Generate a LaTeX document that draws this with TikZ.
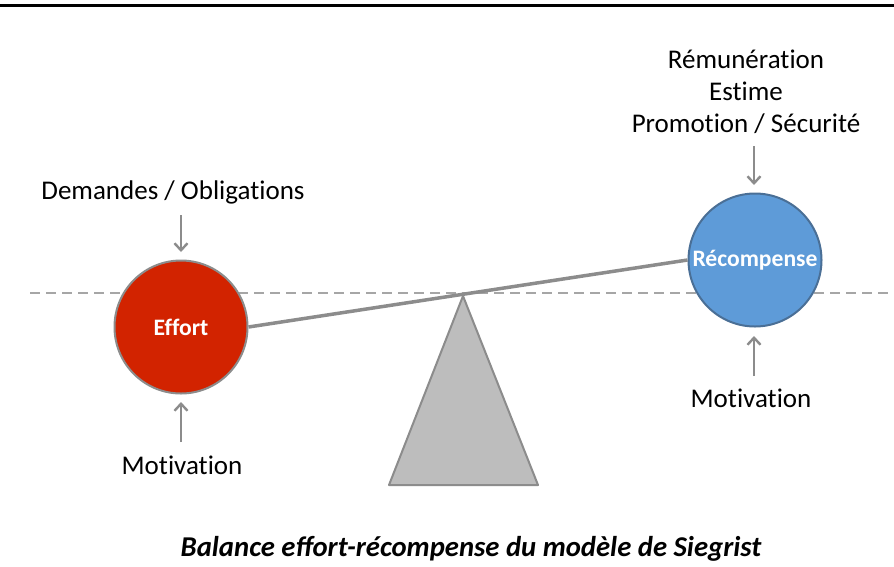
\documentclass[tikz,border=0pt]{standalone}
\usepackage{fontspec}
\setmainfont{Carlito}[Ligatures={NoCommon}]
\newfontfamily\titlefont{Carlito}
\usetikzlibrary{arrows.meta}
\definecolor{effred}{HTML}{D22300}
\definecolor{recblue}{HTML}{5E9BD8}
\definecolor{recedge}{HTML}{4A6F96}
\definecolor{lgray}{HTML}{8C8C8C}
\definecolor{dgray}{HTML}{A6A6A6}
\definecolor{tfill}{HTML}{BDBDBD}
\begin{document}
\begin{tikzpicture}[x=1pt,y=-1pt,
  lbl/.style={font=\fontsize{27}{32}\selectfont, text=black, align=center, inner sep=0pt},
  circ/.style={circle, minimum size=133pt, inner sep=0pt, line width=2pt, text=white, font=\fontsize{23.6}{26}\selectfont\bfseries},
  arr/.style={draw=lgray, line width=2.4pt, -{Straight Barb[length=7pt,width=13pt,line width=2.4pt]}}]
\useasboundingbox (0,0) rectangle (894,566);
\fill[white] (0,0) rectangle (894,566);
\draw[black, line width=3pt] (0,5) -- (894,5);
\draw[dgray, line width=1.5pt, dash pattern=on 10pt off 6pt] (30,293) -- (894,293);
% triangle
\draw[lgray, fill=tfill, line width=2pt, line join=round] (463,296) -- (538,485) -- (389,485) -- cycle;
% circles
\node[circ, fill=effred, draw=lgray] (eff) at (181,327) {Effort};
\node[circ, fill=recblue, draw=recedge] (rec) at (755,260) {Récompense};
% beam
\draw[lgray, line width=3.5pt] (eff.east) -- (rec.west);
% labels
\node[lbl] (dem) at (173,192) {Demandes / Obligations};
\node[lbl] (mot1) at (182,465) {Motivation};
\node[lbl] (rem) at (746,92) {Rémunération\\Estime\\Promotion / Sécurité};
\node[lbl] (mot2) at (751,398) {Motivation};
% arrows
\coordinate (a1s) at (181,215); \coordinate (a1e) at (181,252);
\coordinate (a2s) at (181,442); \coordinate (a2e) at (181,402);
\coordinate (a3s) at (754,146); \coordinate (a3e) at (754,185);
\coordinate (a4s) at (754,376); \coordinate (a4e) at (754,336);
\draw[arr] (a1s) -- (a1e);
\draw[arr] (a2s) -- (a2e);
\draw[arr] (a3s) -- (a3e);
\draw[arr] (a4s) -- (a4e);
% title
\node[font=\titlefont\fontsize{28.7}{32}\selectfont\bfseries\itshape, inner sep=0pt] (title) at (471,549) {Balance effort-récompense du modèle de Siegrist};
\end{tikzpicture}
\end{document}
